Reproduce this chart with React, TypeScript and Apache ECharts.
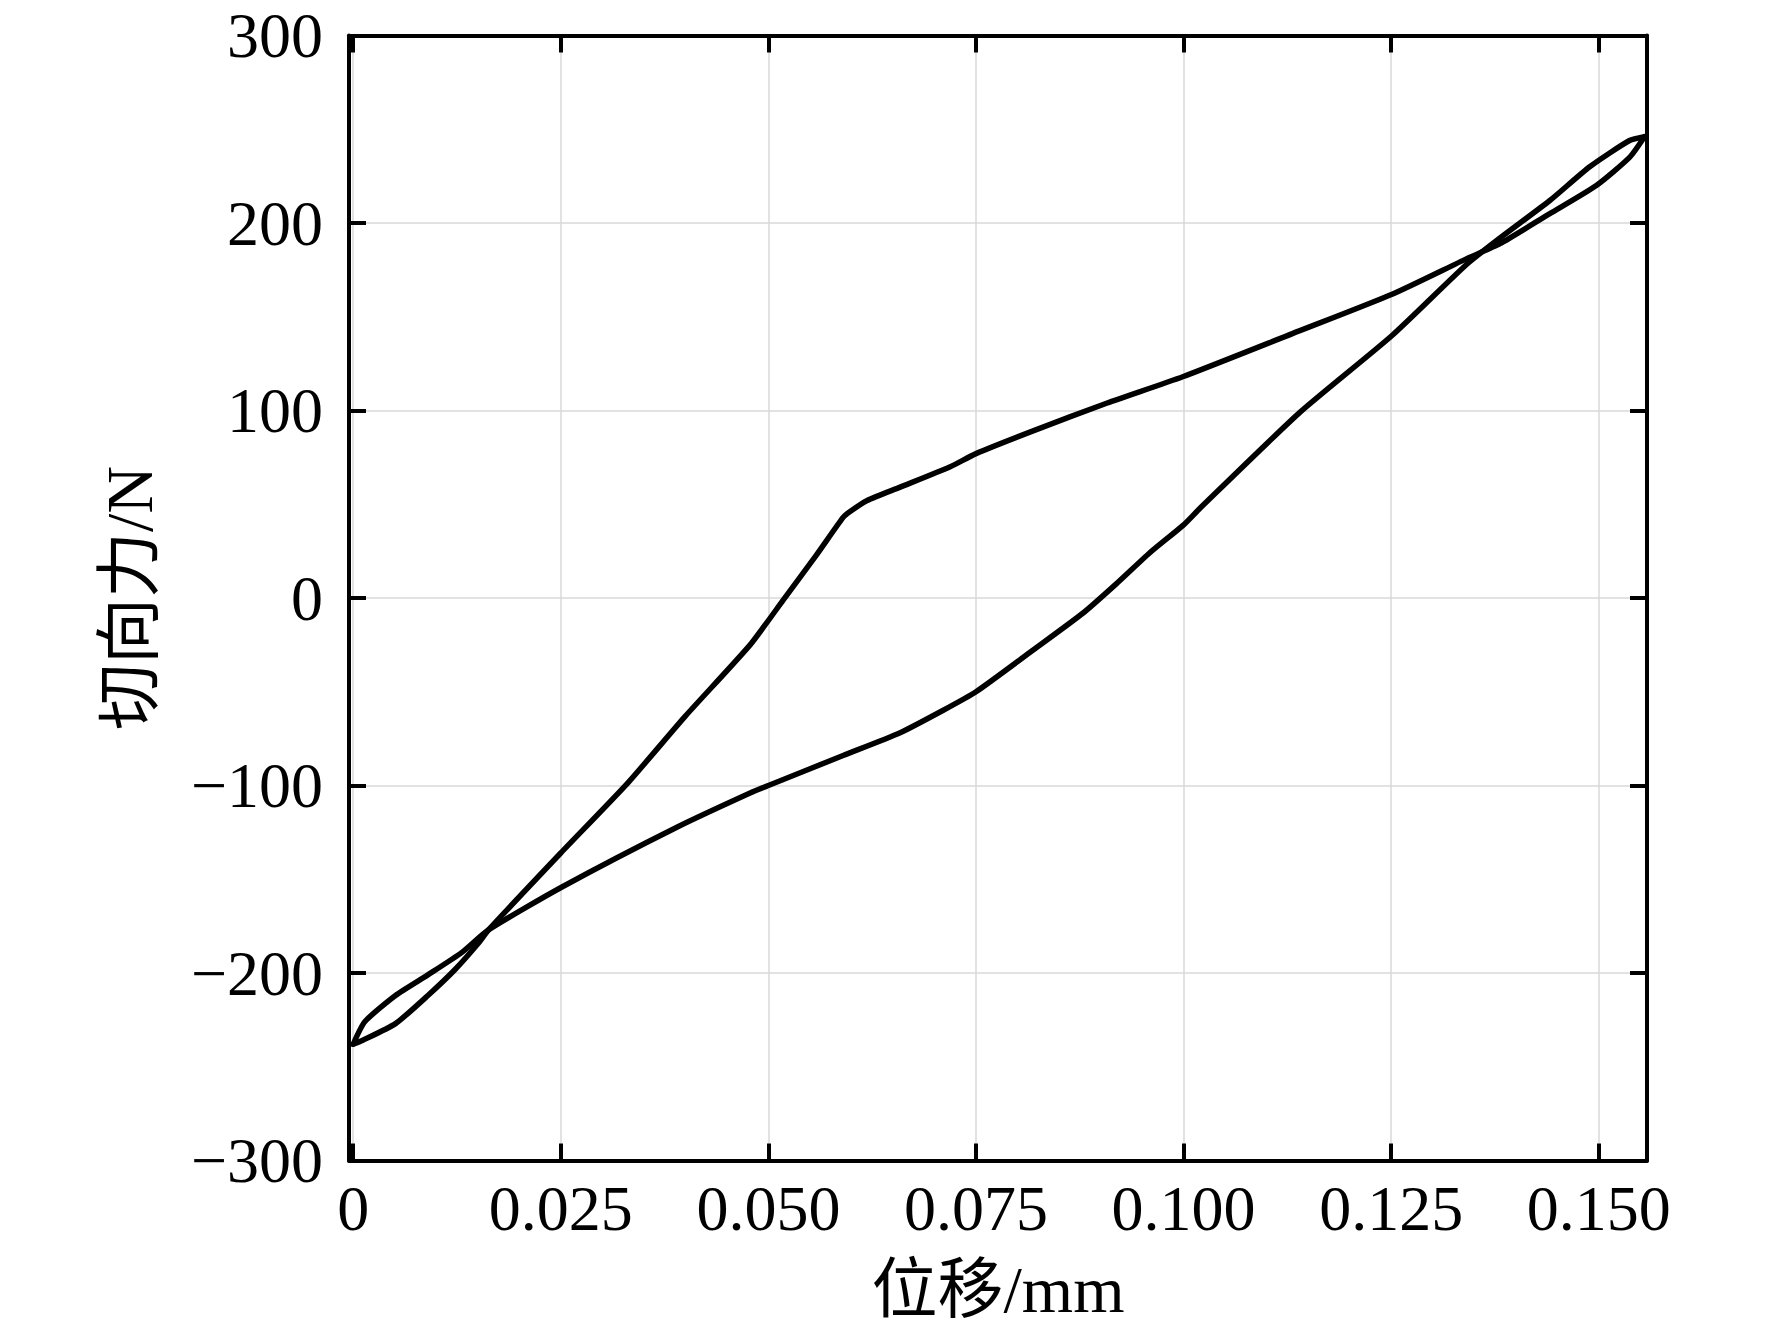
import React, { useEffect, useRef } from "react";
import * as echarts from "echarts";

// Tick values
const xTickValues = [0, 0.025, 0.05, 0.075, 0.1, 0.125, 0.15];
const yTickValues = [-300, -200, -100, 0, 100, 200, 300];

// Loading branch (displacement increasing)
const loadingX = [0, 0.0014, 0.0051, 0.009, 0.0131, 0.0163, 0.0252, 0.0391, 0.0478, 0.05, 0.059, 0.0658, 0.071, 0.075, 0.0818, 0.0879, 0.092, 0.0959, 0.1, 0.102, 0.114, 0.1251, 0.1341, 0.1381, 0.1441, 0.1489, 0.1537, 0.1555];
const loadingY = [-238, -226, -212, -201, -189, -177, -154, -122, -104, -100, -84, -72, -60, -50, -28, -8, 8, 24, 39, 48, 99, 140, 178, 192, 212, 230, 244, 246];

// Unloading branch (displacement decreasing)
const unloadingX = [0.1555, 0.1537, 0.1497, 0.1441, 0.1381, 0.1341, 0.1251, 0.1131, 0.0999, 0.0908, 0.0818, 0.075, 0.0719, 0.0658, 0.0619, 0.0598, 0.059, 0.0558, 0.0518, 0.0478, 0.04, 0.033, 0.025, 0.0163, 0.0151, 0.0123, 0.009, 0.0051, 0.0011, 0];
const unloadingY = [246, 235, 220, 205, 189, 181, 162, 141, 118, 104, 89, 77, 70, 59, 52, 46, 43, 23, -1, -25, -63, -99, -136, -177, -184, -198, -212, -227, -236, -238];

const FONT = "'Liberation Serif', 'Times New Roman', 'Noto Sans CJK SC', serif";
const CJK_FONT = "'Liberation Serif', 'Noto Sans CJK SC', serif";

export default function App() {
  const ref = useRef<HTMLDivElement>(null);

  useEffect(() => {
    document.body.style.margin = "0";
    const chart = echarts.init(ref.current!, null, { renderer: "svg" });

    const loadingData: [number, number][] = loadingX.map((x, i) => [x, loadingY[i]]);
    const unloadingData: [number, number][] = unloadingX
      .map((x, i) => [x, unloadingY[i]] as [number, number])
      .reverse();

    const axisLine = { show: true, onZero: false, lineStyle: { color: "#000", width: 4 } };
    const axisTick = { show: true, inside: true, length: 17, lineStyle: { color: "#000", width: 4 } };
    const splitLine = { show: true, lineStyle: { color: "#d9d9d9", width: 1.5 } };

    const xCommon = {
      type: "value" as const,
      min: -0.0005,
      max: 0.1558,
      axisLine,
      splitLine,
    };
    const yCommon = {
      type: "value" as const,
      min: yTickValues[0],
      max: yTickValues[yTickValues.length - 1],
      interval: 100,
      axisLine,
      splitLine,
    };

    const lineSeries = (name: string, data: [number, number][]) => ({
      type: "line" as const,
      name,
      data,
      showSymbol: false,
      smooth: 0.2,
      lineStyle: { color: "#000", width: 5.5, cap: "round" as const, join: "round" as const },
      z: 5,
    });

    chart.setOption({
      animation: false,
      backgroundColor: "#fff",
      grid: { left: 349, right: 125, top: 35.5, bottom: 170.5, containLabel: false },
      xAxis: [
        {
          ...xCommon,
          position: "bottom",
          axisTick: { ...axisTick, customValues: xTickValues },
          axisLabel: {
            show: true,
            customValues: xTickValues,
            margin: 16,
            color: "#000",
            fontFamily: FONT,
            fontSize: 64,
            formatter: (v: number) => (v === 0 ? "0" : v.toFixed(3)),
          },
        },
        {
          ...xCommon,
          position: "top",
          axisTick: { ...axisTick, customValues: xTickValues },
          axisLabel: { show: false, customValues: xTickValues },
          splitLine: { show: false },
        },
      ],
      yAxis: [
        {
          ...yCommon,
          position: "left",
          axisTick,
          axisLabel: {
            show: true,
            margin: 26,
            color: "#000",
            fontFamily: FONT,
            fontSize: 64,
            lineHeight: 56,
            formatter: (v: number) => (v < 0 ? "\u2212" + Math.abs(v) : String(v)),
          },
        },
        {
          ...yCommon,
          position: "right",
          axisTick,
          axisLabel: { show: false },
          splitLine: { show: false },
        },
      ],
      graphic: [
        {
          type: "text",
          x: 998,
          y: 1289,
          style: {
            text: "位移/mm",
            font: `66px ${CJK_FONT}`,
            fill: "#000",
            align: "center",
            verticalAlign: "middle",
          },
        },
        {
          type: "text",
          x: 129,
          y: 598,
          rotation: Math.PI / 2,
          style: {
            text: "切向力/N",
            font: `66px ${CJK_FONT}`,
            fill: "#000",
            align: "center",
            verticalAlign: "middle",
          },
        },
      ],
      series: [lineSeries("加载", loadingData), lineSeries("卸载", unloadingData)],
    });

    return () => chart.dispose();
  }, []);

  return <div ref={ref} style={{ width: 1772, height: 1331 }} />;
}
